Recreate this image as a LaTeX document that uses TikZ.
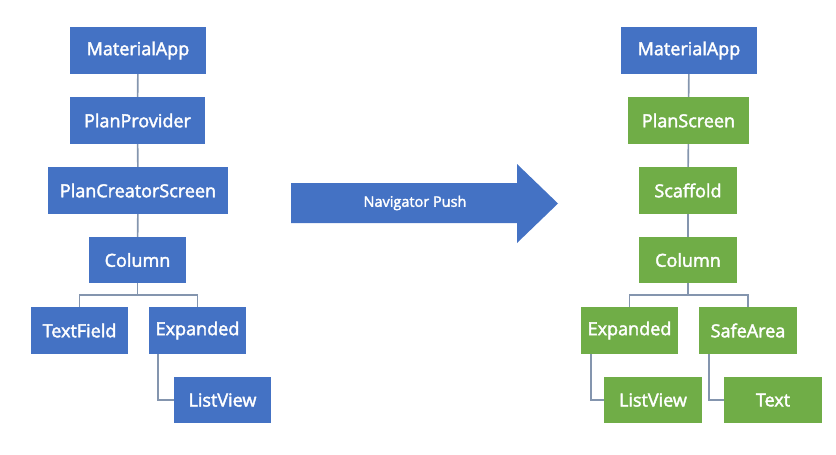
\documentclass[tikz,border=0pt]{standalone}
\usepackage{fontspec}
\setmainfont{Open Sans}
\newfontfamily\boxfont[FakeBold=2.2]{Open Sans}
\usetikzlibrary{positioning}
\definecolor{wblue}{HTML}{4472C4}
\definecolor{wgreen}{HTML}{70AD47}
\definecolor{wline}{HTML}{8495AE}
\tikzset{
  wbox/.style={rectangle, fill=#1, text=white, inner sep=0pt, font=\boxfont\fontsize{18}{20}\selectfont},
  bluebox/.style={wbox=wblue},
  greenbox/.style={wbox=wgreen},
  wlink/.style={draw=wline, line width=1.6pt},
}
\begin{document}
\begin{tikzpicture}[x=1pt,y=-1pt]
\useasboundingbox (0,0) rectangle (836,455);
% left tree
\node[bluebox, minimum width=136pt, minimum height=47pt] (LMA) at (138,50.5) {MaterialApp};
\node[bluebox, minimum width=135pt, minimum height=47pt] (LPP) at (137.5,120.5) {PlanProvider};
\node[bluebox, minimum width=180pt, minimum height=47pt] (LPCS) at (138,190.5) {PlanCreatorScreen};
\node[bluebox, minimum width=97pt, minimum height=46pt] (LCol) at (137.5,260) {Column};
\node[bluebox, minimum width=97pt, minimum height=47pt] (LTF) at (79.5,330.5) {TextField};
\node[bluebox, minimum width=97pt, minimum height=47pt] (LExp) at (197.5,330.5) {Expanded};
\node[bluebox, minimum width=97pt, minimum height=46pt] (LLV) at (222.5,400) {ListView};
% right tree
\node[bluebox, minimum width=136pt, minimum height=47pt] (RMA) at (689,50.5) {MaterialApp};
\node[greenbox, minimum width=121pt, minimum height=47pt] (RPS) at (688.5,120.5) {PlanScreen};
\node[greenbox, minimum width=98pt, minimum height=47pt] (RSc) at (688,190.5) {Scaffold};
\node[greenbox, minimum width=98pt, minimum height=46pt] (RCol) at (688,260) {Column};
\node[greenbox, minimum width=97pt, minimum height=47pt] (RExp) at (629.5,330.5) {Expanded};
\node[greenbox, minimum width=98pt, minimum height=47pt] (RSA) at (748,330.5) {SafeArea};
\node[greenbox, minimum width=98pt, minimum height=46pt] (RLV) at (653,400) {ListView};
\node[greenbox, minimum width=98pt, minimum height=46pt] (RTx) at (773,400) {Text};
% left connectors
\draw[wlink] (LMA) -- (LPP);
\draw[wlink] (LPP) -- (LPCS);
\draw[wlink] (LPCS) -- (LCol);
\draw[wlink] (LCol.south) -- ++(0,12) -| (LTF.north);
\draw[wlink] (LCol.south) -- ++(0,12) -| (LExp.north);
\draw[wlink] ([xshift=9pt]LExp.south west) |- (LLV.west);
% right connectors
\draw[wlink] (RMA) -- (RPS);
\draw[wlink] (RPS) -- (RSc);
\draw[wlink] (RSc) -- (RCol);
\draw[wlink] (RCol.south) -- ++(0,12) -| (RExp.north);
\draw[wlink] (RCol.south) -- ++(0,12) -| (RSA.north);
\draw[wlink] ([xshift=10pt]RExp.south west) |- (RLV.west);
\draw[wlink] ([xshift=10pt]RSA.south west) |- (RTx.west);
% arrow
\fill[wblue] (291,183) -- (517,183) -- (517,164) -- (558,203.5) -- (517,243) -- (517,223) -- (291,223) -- cycle;
\node[text=white, font=\boxfont\fontsize{14.5}{17}\selectfont, inner sep=0pt] (push) at (415,203) {Navigator Push};
\end{tikzpicture}
\end{document}
